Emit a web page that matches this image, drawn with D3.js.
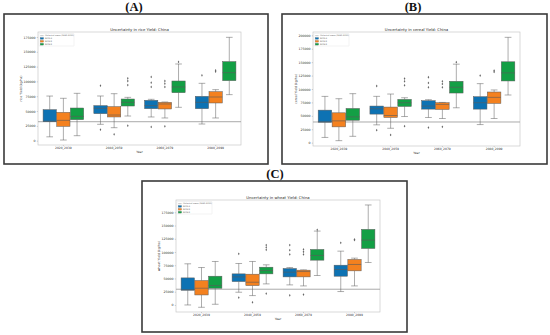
<!DOCTYPE html>
<html>
<head>
<meta charset="utf-8">
<script src="https://cdn.jsdelivr.net/npm/d3@7"></script>
<style>
  body { margin: 0; background: #fff; }
  svg { display: block; }
</style>
</head>
<body>
<svg id="fig" width="550" height="335"></svg>
<script>
"use strict";

// categories / series
const years = ["2020_2039", "2040_2059", "2060_2079", "2080_2099"];
const scenarios = ["RCP2.6", "RCP4.5", "RCP8.5"];
const scenarioColors = ["#0d72b3", "#f4811f", "#139f45"];
const histLabel = "Historical mean (1991-2010)";

// tick labels
const ticks175 = [0, 25000, 50000, 75000, 100000, 125000, 150000, 175000];
const ticks200 = [0, 25000, 50000, 75000, 100000, 125000, 150000, 175000, 200000];

// box stats per scenario, per period: [lower whisker, q1, median, q3, upper whisker]
const riceStats = [
  [[6500, 32000, 33000, 52300, 75300], [27600, 45600, 54600, 59100, 75400], [40000, 54000, 59100, 68100, 69800], [28100, 54000, 64700, 74800, 96800]],
  [[1100, 24200, 34300, 47800, 71500], [21900, 40000, 43300, 57400, 79300], [38300, 53500, 61900, 64700, 65300], [38300, 63600, 73700, 82700, 86100]],
  [[8400, 35400, 41000, 55100, 79900], [41600, 58500, 64700, 70300, 73100], [56300, 81000, 90600, 100700, 129400], [77700, 101300, 114800, 133400, 174400]]
];
const riceOutliers = [
  [[], [92800, 18600], [107500, 97900, 90600, 23100], [110300]],
  [[], [10700], [100700, 96200, 90600, 24200], [118700, 116500]],
  [[], [105200, 100700, 93900, 25300], [132800], []]
];
const riceHistMean = 32000;

const cerealStats = [
  [[9700, 38100, 39200, 60600, 86200], [33200, 53200, 63200, 68200, 86300], [46900, 62500, 68200, 78200, 80100], [33700, 62500, 74400, 85600, 110000]],
  [[3700, 29400, 40600, 55600, 81900], [26800, 46900, 50600, 66300, 90600], [45000, 61900, 71300, 74400, 75000], [45000, 73200, 84400, 94400, 98200]],
  [[11800, 41800, 48000, 63700, 91300], [48700, 67500, 74400, 80600, 83700], [65000, 92500, 103200, 114400, 146300], [88800, 115000, 130000, 150700, 196300]]
];
const cerealOutliers = [
  [[], [105600, 23200], [121900, 111300, 103200, 28200], [125000]],
  [[], [14400], [114400, 109400, 103200, 29400], [134400, 131900]],
  [[], [119400, 114400, 106800, 30600], [150000], []]
];
const cerealHistMean = 38500;

const wheatStats = [
  [[0, 27800, 29000, 51100, 77700], [24000, 44200, 53000, 58700, 78300], [37900, 53000, 61900, 68800, 70700], [25300, 54300, 66900, 75100, 101600]],
  [[-4400, 18900, 31600, 46100, 70700], [17700, 36600, 42900, 58100, 82100], [36000, 53000, 63100, 65700, 66300], [36000, 64400, 76400, 85900, 88400]],
  [[1300, 31600, 36600, 54300, 82100], [39800, 58700, 65000, 71300, 75800], [55600, 84600, 93400, 104800, 139500], [80200, 106700, 122500, 142700, 188800]]
];
const wheatOutliers = [
  [[], [96600, 13900], [113000, 103500, 95300, 18300], [117400]],
  [[], [5000], [104800, 100400, 95300, 19600], [123700, 122500]],
  [[], [113000, 108600, 104200, 21500], [142000], []]
];
const wheatHistMean = 29700;

// panels: layout + which data
const panels = [
  { tag: "(A)", tagX: 134, tagY: 11, frame: [4, 14, 268, 164], plot: { l: 38, t: 32, r: 241, b: 145 },
    domain: [-7300, 183400], ticks: ticks175, title: "Uncertainty in rice Yield: China", ylabel: "rice Yield (kg/ha)",
    stats: riceStats, outliers: riceOutliers, hist: riceHistMean },
  { tag: "(B)", tagX: 413, tagY: 11, frame: [282, 14, 547, 164], plot: { l: 313, t: 32, r: 520, b: 146 },
    domain: [-6250, 206250], ticks: ticks200, title: "Uncertainty in cereal Yield: China", ylabel: "cereal Yield (kg/ha)",
    stats: cerealStats, outliers: cerealOutliers, hist: cerealHistMean },
  { tag: "(C)", tagX: 275, tagY: 178, frame: [142, 181, 407, 332], plot: { l: 176, t: 200, r: 380, b: 312 },
    domain: [-13300, 198200], ticks: ticks175, title: "Uncertainty in wheat Yield: China", ylabel: "wheat Yield (kg/ha)",
    stats: wheatStats, outliers: wheatOutliers, hist: wheatHistMean }
];

const svg = d3.select("#fig");
svg.append("rect").attr("width", 550).attr("height", 335).attr("fill", "#fff");

const font = "DejaVu Sans, sans-serif";
const edge = "#5a5a5a";

function drawPanel(p) {
  const g = svg.append("g");
  const pl = p.plot;

  // panel label
  g.append("text")
    .attr("x", p.tagX).attr("y", p.tagY)
    .attr("text-anchor", "middle")
    .attr("font-family", "Liberation Serif, serif")
    .attr("font-weight", "bold")
    .attr("font-size", 12.5)
    .attr("fill", "#111")
    .text(p.tag);

  // outer frame
  g.append("rect")
    .attr("x", p.frame[0]).attr("y", p.frame[1])
    .attr("width", p.frame[2] - p.frame[0]).attr("height", p.frame[3] - p.frame[1])
    .attr("fill", "none").attr("stroke", "#3a3a3a").attr("stroke-width", 1.6);

  // scales
  const x = d3.scaleBand().domain(years).range([pl.l, pl.r]);
  const xs = d3.scaleBand().domain(scenarios).range([0, x.bandwidth() * 0.8]).paddingInner(0.03);
  const y = d3.scaleLinear().domain(p.domain).range([pl.b, pl.t]);

  // axes
  const yAxis = d3.axisLeft(y).tickValues(p.ticks).tickSize(1.2).tickPadding(1.2).tickFormat(d3.format("d"));
  const xAxis = d3.axisBottom(x).tickSize(1.2).tickPadding(1);

  const ya = g.append("g").attr("transform", `translate(${pl.l},0)`).call(yAxis);
  const xa = g.append("g").attr("transform", `translate(0,${pl.b})`).call(xAxis);
  [ya, xa].forEach((a) => {
    a.attr("font-size", 3.2).attr("font-family", font);
    a.select(".domain").remove();
    a.selectAll(".tick line").attr("stroke", "#777").attr("stroke-width", 0.4);
    a.selectAll(".tick text").attr("fill", "#333");
  });
  xa.attr("font-size", 3);

  // plot frame
  g.append("rect")
    .attr("x", pl.l).attr("y", pl.t)
    .attr("width", pl.r - pl.l).attr("height", pl.b - pl.t)
    .attr("fill", "none").attr("stroke", "#c8c8c8").attr("stroke-width", 0.7);

  // title + axis labels
  g.append("text")
    .attr("x", (pl.l + pl.r) / 2).attr("y", pl.t - 1.2)
    .attr("text-anchor", "middle").attr("font-family", font).attr("font-size", 3.8).attr("fill", "#222")
    .text(p.title);
  g.append("text")
    .attr("transform", `translate(${pl.l - 16},${(pl.t + pl.b) / 2}) rotate(-90)`)
    .attr("text-anchor", "middle").attr("font-family", font).attr("font-size", 3.1).attr("fill", "#333")
    .text(p.ylabel);
  g.append("text")
    .attr("x", (pl.l + pl.r) / 2).attr("y", pl.b + 8)
    .attr("text-anchor", "middle").attr("font-family", font).attr("font-size", 3.1).attr("fill", "#333")
    .text("Year");

  // historical mean line
  g.append("line")
    .attr("x1", pl.l).attr("x2", pl.r)
    .attr("y1", y(p.hist)).attr("y2", y(p.hist))
    .attr("stroke", "#a0a0a0").attr("stroke-width", 0.9);

  // boxes
  scenarios.forEach((s, si) => {
    years.forEach((yr, yi) => {
      const st = p.stats[si][yi];
      const x0 = x(yr) + x.bandwidth() * 0.1 + xs(s);
      const w = xs.bandwidth();
      const cx = x0 + w / 2;
      const bg = g.append("g");

      // whiskers
      bg.append("line").attr("x1", cx).attr("x2", cx).attr("y1", y(st[0])).attr("y2", y(st[1]))
        .attr("stroke", edge).attr("stroke-width", 0.5);
      bg.append("line").attr("x1", cx).attr("x2", cx).attr("y1", y(st[3])).attr("y2", y(st[4]))
        .attr("stroke", edge).attr("stroke-width", 0.5);
      [st[0], st[4]].forEach((v) => {
        bg.append("line").attr("x1", cx - w / 4).attr("x2", cx + w / 4).attr("y1", y(v)).attr("y2", y(v))
          .attr("stroke", edge).attr("stroke-width", 0.5);
      });

      // box
      bg.append("rect")
        .attr("x", x0).attr("y", y(st[3]))
        .attr("width", w).attr("height", y(st[1]) - y(st[3]))
        .attr("fill", scenarioColors[si]).attr("stroke", edge).attr("stroke-width", 0.5);

      // median
      bg.append("line").attr("x1", x0).attr("x2", x0 + w).attr("y1", y(st[2])).attr("y2", y(st[2]))
        .attr("stroke", edge).attr("stroke-width", 0.6);

      // fliers
      p.outliers[si][yi].forEach((v) => {
        bg.append("path")
          .attr("d", d3.symbol(d3.symbolDiamond, 2.2)())
          .attr("transform", `translate(${cx},${y(v)})`)
          .attr("fill", "#666");
      });
    });
  });

  // legend
  const lg = g.append("g").attr("transform", `translate(${pl.l + 1},${pl.t + 1.5})`);
  lg.append("rect").attr("width", 35).attr("height", 12.5)
    .attr("fill", "#fff").attr("stroke", "#ddd").attr("stroke-width", 0.4).attr("rx", 0.6);
  lg.append("line").attr("x1", 1.2).attr("x2", 4.6).attr("y1", 2.2).attr("y2", 2.2)
    .attr("stroke", "#a0a0a0").attr("stroke-width", 0.6);
  lg.append("text").attr("x", 6).attr("y", 2.9).attr("font-family", font).attr("font-size", 2)
    .attr("fill", "#555").text(histLabel);
  scenarios.forEach((s, si) => {
    const ry = 4.9 + si * 2.9;
    lg.append("rect").attr("x", 1.2).attr("y", ry - 0.9).attr("width", 3.4).attr("height", 1.8)
      .attr("fill", scenarioColors[si]).attr("stroke", edge).attr("stroke-width", 0.2);
    lg.append("text").attr("x", 6).attr("y", ry + 0.7).attr("font-family", font).attr("font-size", 2)
      .attr("fill", "#555").text(s);
  });
}

panels.forEach(drawPanel);
</script>
</body>
</html>
